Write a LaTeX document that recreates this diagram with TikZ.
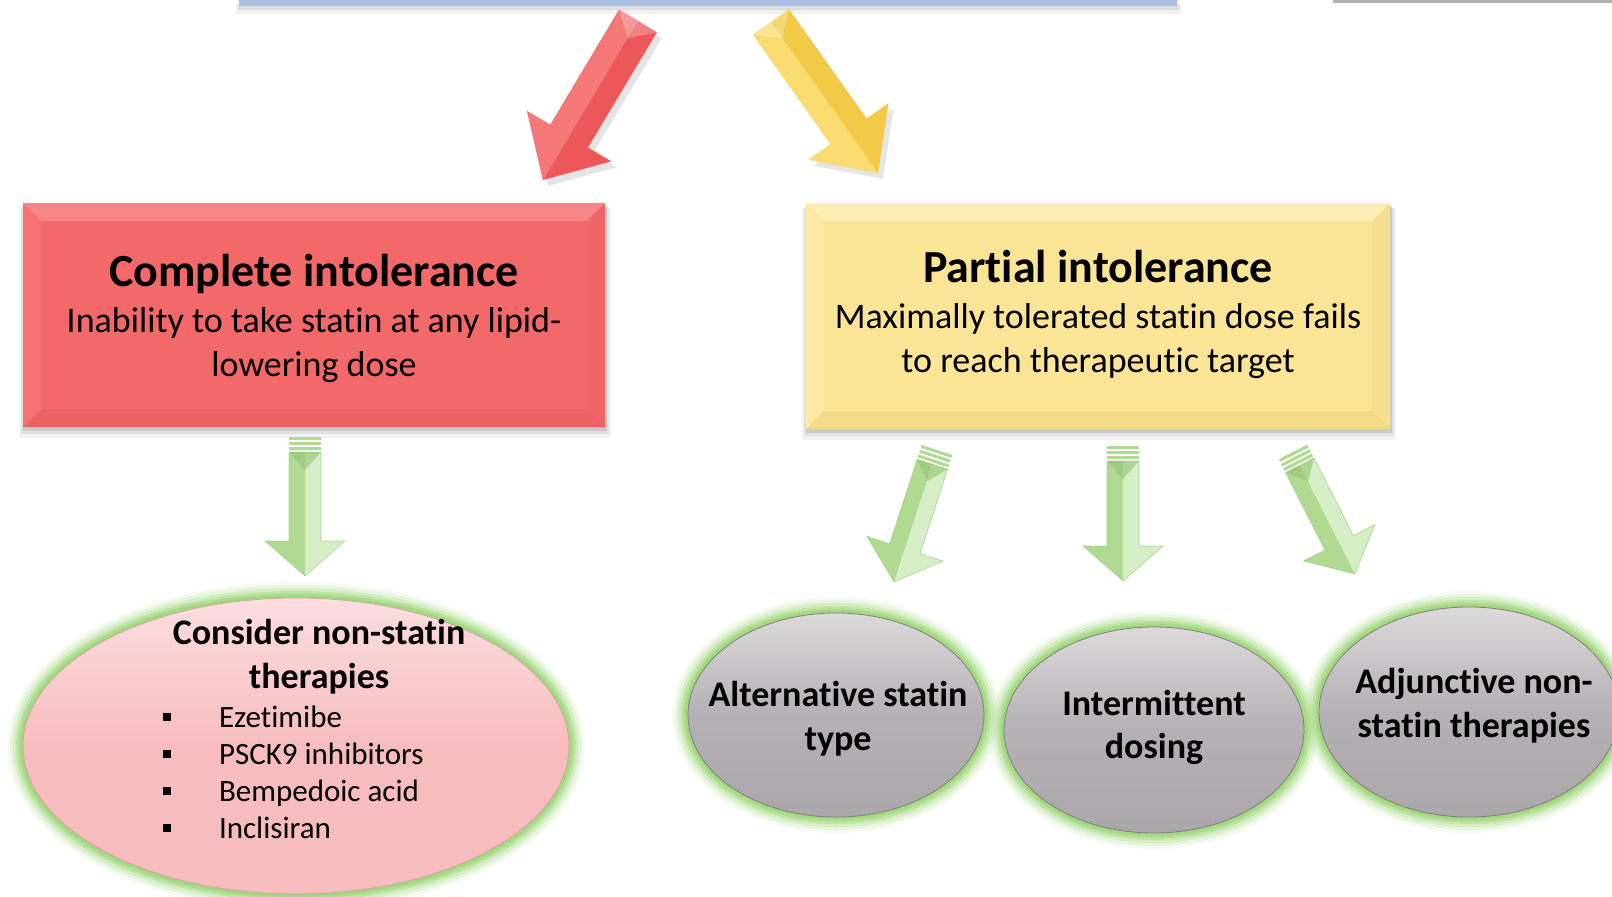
\documentclass[tikz,border=0pt]{standalone}
\usepackage{fontspec}
\setmainfont{Carlito}[Ligatures={NoCommon,NoContextual,NoRare}]
\usetikzlibrary{calc,shapes.geometric}
\definecolor{redbox}{RGB}{243,104,104}
\definecolor{redtopb}{RGB}{248,134,134}
\definecolor{redleftb}{RGB}{245,114,114}
\definecolor{redrightb}{RGB}{239,100,101}
\definecolor{redbotb}{RGB}{236,97,98}
\definecolor{yelbox}{RGB}{250,228,150}
\definecolor{yeltopb}{RGB}{253,238,182}
\definecolor{yelleftb}{RGB}{252,233,164}
\definecolor{yelrightb}{RGB}{245,222,142}
\definecolor{yelbotb}{RGB}{242,218,136}
\definecolor{redarrow}{RGB}{236,88,90}
\definecolor{redarrowl}{RGB}{244,120,120}
\definecolor{yelarrow}{RGB}{242,202,72}
\definecolor{yelarrowl}{RGB}{249,220,112}
\definecolor{grn}{RGB}{176,218,146}
\definecolor{grnl}{RGB}{214,238,198}
\definecolor{grnd}{RGB}{146,196,116}
\definecolor{glow}{RGB}{160,216,124}
\definecolor{pinkfill}{RGB}{246,188,190}
\definecolor{pinktop}{RGB}{251,222,224}
\definecolor{graymid}{RGB}{180,176,179}
\definecolor{graytop}{RGB}{220,217,219}
\definecolor{graybot}{RGB}{170,166,169}
\definecolor{topblue}{RGB}{170,190,225}

% arrow geometry: tail, tip, half shaft, half head, head length
\newcommand\mkarrowpts[5]{%
  \coordinate (A-T) at (#1);
  \coordinate (A-P) at (#2);
  \coordinate (A-B) at ($(A-P)!#5!(A-T)$);
  \coordinate (A-T1) at ($(A-T)!#3!90:(A-P)$);
  \coordinate (A-T2) at ($(A-T)!#3!-90:(A-P)$);
  \coordinate (A-S1) at ($(A-B)!#3!90:(A-P)$);
  \coordinate (A-S2) at ($(A-B)!#3!-90:(A-P)$);
  \coordinate (A-H1) at ($(A-B)!#4!90:(A-P)$);
  \coordinate (A-H2) at ($(A-B)!#4!-90:(A-P)$);
}
\newcommand\arrowpoly{(A-T1) -- (A-S1) -- (A-H1) -- (A-P) -- (A-H2) -- (A-S2) -- (A-T2) -- cycle}
% 3D block arrow: tail, tip, base colour, light colour, light side (90/-90)
\newcommand\blockarrow[5]{%
  \mkarrowpts{$(#1)+(5,6)$}{$(#2)+(5,6)$}{22pt}{49pt}{51pt}
  \fill[black,opacity=.10] \arrowpoly;
  \mkarrowpts{#1}{#2}{22pt}{49pt}{51pt}
  \fill[#3] \arrowpoly;
  \fill[#4] (A-T) -- ($(A-T)!22pt!#5:(A-P)$) -- ($(A-B)!22pt!#5:(A-P)$) -- ($(A-B)!49pt!#5:(A-P)$) -- (A-P) -- cycle;
  \fill[white,opacity=.25] (A-T1) -- (A-T2) -- ($(A-T)!20pt!(A-P)$) -- cycle;
}
% striped green arrow: tail, tip
\newcommand\greenarrow[2]{%
  \mkarrowpts{$(#1)!15pt!(#2)$}{#2}{16pt}{40pt}{35pt}
  \fill[grn] \arrowpoly;
  \fill[grnl] (A-T) -- (A-T1) -- (A-S1) -- (A-H1) -- (A-P) -- cycle;
  \fill[grnd,opacity=.6] (A-T1) -- (A-T2) -- ($(A-T)!18pt!(A-P)$) -- cycle;
  \draw[grnd,line width=.6pt,opacity=.6] \arrowpoly;
  \foreach \k/\kk in {0/3,5/8,10/13}{%
    \coordinate (st-a) at ($(#1)!\k pt!(#2)$);
    \coordinate (st-b) at ($(#1)!\kk pt!(#2)$);
    \fill[grn] ($(st-a)!16pt!90:(#2)$) -- ($(st-b)!16pt!90:(#2)$) -- ($(st-b)!16pt!-90:(#2)$) -- ($(st-a)!16pt!-90:(#2)$) -- cycle;
  }
}
% bevel: node, width, top, left, right, bottom colours
\newcommand\bevel[6]{%
  \fill[#3] (#1.north west) -- (#1.north east) -- ($(#1.north east)+(-#2,#2)$) -- ($(#1.north west)+(#2,#2)$) -- cycle;
  \fill[#4] (#1.north west) -- ($(#1.north west)+(#2,#2)$) -- ($(#1.south west)+(#2,-#2)$) -- (#1.south west) -- cycle;
  \fill[#5] (#1.north east) -- ($(#1.north east)+(-#2,#2)$) -- ($(#1.south east)+(-#2,-#2)$) -- (#1.south east) -- cycle;
  \fill[#6] (#1.south west) -- ($(#1.south west)+(#2,-#2)$) -- ($(#1.south east)+(-#2,-#2)$) -- (#1.south east) -- cycle;
}
\newcommand\glowellipse[3]{% centre, rx, ry
  \foreach \w/\o in {32/.10,26/.16,20/.26,14/.42,9/.62,5/.85}{%
    \draw[glow,line width=\w pt,opacity=\o] (#1) ellipse [x radius=#2, y radius=#3];
  }
}

\begin{document}
\begin{tikzpicture}[x=1pt,y=-1pt,
  every node/.style={inner sep=0pt,outer sep=0pt},
  ttl/.style={font=\fontsize{46}{56}\selectfont\bfseries,anchor=base},
  sub/.style={font=\fontsize{36}{44}\selectfont,anchor=base},
  btxt/.style={font=\fontsize{36}{44}\selectfont\bfseries,anchor=base},
  itm/.style={font=\fontsize{31}{37}\selectfont,anchor=base west},
  bul/.style={fill=black,minimum size=8pt},
  circ/.style={ellipse,draw=graybot!75!black,line width=.8pt,top color=graytop,bottom color=graybot,middle color=graymid},
]
\useasboundingbox (0,0) rectangle (1612,897);
\fill[white] (0,0) rectangle (1612,897);

% top bar (cut off) and grey line at top right
\fill[black,opacity=.06] (236,4) rectangle (1181,14);
\fill[black,opacity=.08] (238,4) rectangle (1179,10);
\node[fill=topblue,minimum width=938pt,minimum height=20pt,anchor=south] (top) at (708,6) {};
\node[fill=gray!60,minimum width=279pt,minimum height=3pt,anchor=north west] (topr) at (1333,0) {};

% arrows from top
\coordinate (ra-s) at (638,21);
\coordinate (ra-e) at (543,180);
\coordinate (ya-s) at (771,22);
\coordinate (ya-e) at (878,173);
\blockarrow{ra-s}{ra-e}{redarrow}{redarrowl}{-90}
\blockarrow{ya-s}{ya-e}{yelarrow}{yelarrowl}{-90}

% complete intolerance box
\fill[black,opacity=.05] (19,208) rectangle (611,438);
\fill[black,opacity=.07] (21,207) rectangle (609,434);
\fill[black,opacity=.10] (23,206) rectangle (607,431);
\node[fill=redbox,minimum width=582pt,minimum height=224pt] (complete) at (314,315) {};
\bevel{complete}{18}{redtopb}{redleftb}{redrightb}{redbotb}
\node[ttl] (ci-t) at (314,286) {Complete intolerance};
\node[sub] (ci-1) at (314,332) {Inability to take statin at any lipid-};
\node[sub] (ci-2) at (314,376) {lowering dose};

% partial intolerance box
\fill[black,opacity=.05] (802,208) rectangle (1396,440);
\fill[black,opacity=.07] (804,207) rectangle (1394,436);
\fill[black,opacity=.10] (806,206) rectangle (1392,433);
\node[fill=yelbox,minimum width=584pt,minimum height=226pt] (partial) at (1098,316) {};
\bevel{partial}{18}{yeltopb}{yelleftb}{yelrightb}{yelbotb}
\node[ttl] (pi-t) at (1098,282) {Partial intolerance};
\node[sub] (pi-1) at (1098,328) {Maximally tolerated statin dose fails};
\node[sub] (pi-2) at (1098,372) {to reach therapeutic target};

% green arrows
\coordinate (g1-s) at (305,437);
\coordinate (g1-e) at (305,576);
\coordinate (g2-s) at (937,450);
\coordinate (g2-e) at (894,582);
\coordinate (g3-s) at (1123,446);
\coordinate (g3-e) at (1123,581);
\coordinate (g4-s) at (1293,452);
\coordinate (g4-e) at (1355,574);
\greenarrow{g1-s}{g1-e}
\greenarrow{g2-s}{g2-e}
\greenarrow{g3-s}{g3-e}
\greenarrow{g4-s}{g4-e}

% non-statin ellipse
\glowellipse{296,746}{273}{148}
\node[ellipse,minimum width=546pt,minimum height=296pt,draw=pinkfill!85!black,line width=.7pt,
      top color=pinktop,bottom color=pinkfill,middle color=pinkfill] (nonstatin) at (296,746) {};
\node[btxt] (ns-t1) at (319,644) {Consider non-statin};
\node[btxt] (ns-t2) at (319,688) {therapies};
\node[bul] (b1) at (167,717) {};
\node[bul] (b2) at (167,754) {};
\node[bul] (b3) at (167,791) {};
\node[bul] (b4) at (167,828) {};
\node[itm] (i1) at (219,727) {Ezetimibe};
\node[itm] (i2) at (219,764) {PSCK9 inhibitors};
\node[itm] (i3) at (219,801) {Bempedoic acid};
\node[itm] (i4) at (219,838) {Inclisiran};

% grey circles
\glowellipse{836,715}{148}{102}
\node[circ,minimum width=296pt,minimum height=204pt] (alt) at (836,715) {};
\node[btxt] (c1-1) at (838,706) {Alternative statin};
\node[btxt] (c1-2) at (838,750) {type};

\glowellipse{1154,730}{150}{103}
\node[circ,minimum width=300pt,minimum height=206pt] (inter) at (1154,730) {};
\node[btxt] (c2-1) at (1154,715) {Intermittent};
\node[btxt] (c2-2) at (1154,758) {dosing};

\glowellipse{1469,712}{150}{105}
\node[circ,minimum width=300pt,minimum height=210pt] (adj) at (1469,712) {};
\node[btxt] (c3-1) at (1474,693) {Adjunctive non-};
\node[btxt] (c3-2) at (1474,737) {statin therapies};
\end{tikzpicture}
\end{document}
